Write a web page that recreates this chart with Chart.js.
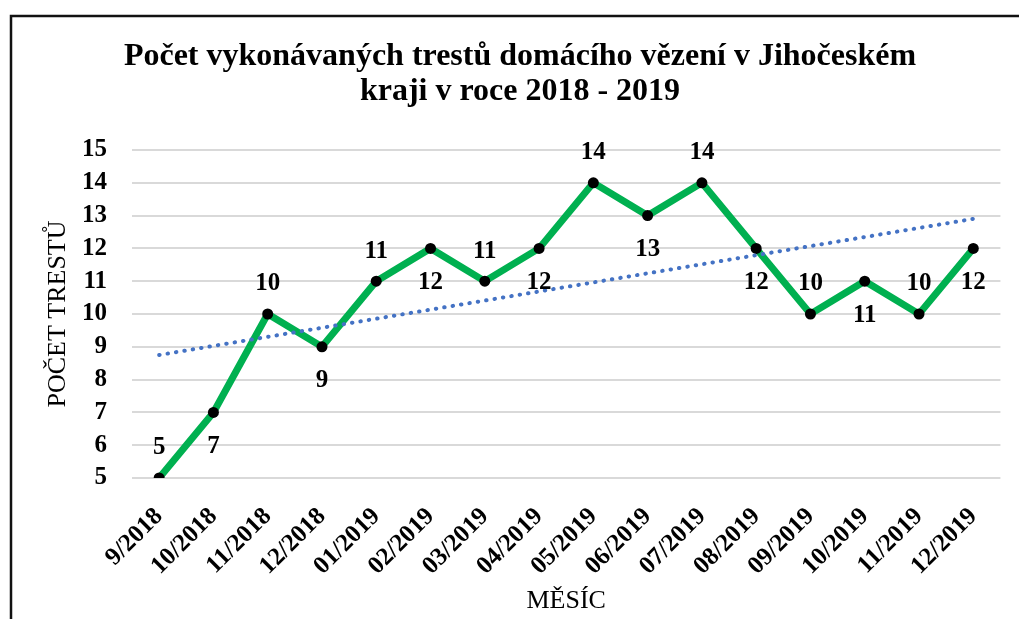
<!DOCTYPE html>
<html>
<head>
<meta charset="utf-8">
<script src="https://cdn.jsdelivr.net/npm/chart.js@4"></script>
<style>
  html, body { margin: 0; padding: 0; background: #fff; }
  #wrap { width: 1019px; height: 619px; }
</style>
</head>
<body>
<div id="wrap"><canvas id="myChart" width="1019" height="619"></canvas></div>
<script>
var months = ['9/2018', '10/2018', '11/2018', '12/2018', '01/2019', '02/2019', '03/2019', '04/2019',
  '05/2019', '06/2019', '07/2019', '08/2019', '09/2019', '10/2019', '11/2019', '12/2019'];
var counts = [5, 7, 10, 9, 11, 12, 11, 12, 14, 13, 14, 12, 10, 11, 10, 12];
// linear trend line, end values
var trend = [8.75, null, null, null, null, null, null, null, null, null, null, null, null, null, null, 12.9];
// label above (-1) or below (+1) each point
var labelSide = [-1, 1, -1, 1, -1, 1, -1, 1, -1, 1, -1, 1, -1, 1, -1, 1];

var serif = '"Liberation Serif", "Times New Roman", serif';

var framePlugin = {
  id: 'frame',
  beforeDraw: function (chart) {
    var c = chart.ctx;
    c.save();
    c.fillStyle = '#fff';
    c.fillRect(0, 0, chart.width, chart.height);
    c.strokeStyle = '#111';
    c.lineWidth = 2.5;
    c.beginPath();
    c.moveTo(11, chart.height);
    c.lineTo(11, 16);
    c.lineTo(chart.width, 16);
    c.stroke();
    c.restore();
  }
};

var labelPlugin = {
  id: 'pointLabels',
  afterDatasetsDraw: function (chart) {
    var c = chart.ctx;
    var meta = chart.getDatasetMeta(0);
    c.save();
    c.font = 'bold 25px ' + serif;
    c.fillStyle = '#000';
    c.textAlign = 'center';
    c.textBaseline = 'middle';
    meta.data.forEach(function (pt, i) {
      var off = labelSide[i] < 0 ? -30 : 34;
      c.fillText(String(counts[i]), pt.x, pt.y + off);
    });
    c.restore();
  }
};

var ctx = document.getElementById('myChart').getContext('2d');
var myChart = new Chart(ctx, {
  type: 'line',
  data: {
    labels: months,
    datasets: [{
      label: 'Počet trestů',
      data: counts,
      borderColor: 'rgb(0, 176, 80)',
      borderWidth: 7,
      pointBackgroundColor: '#000',
      pointBorderColor: '#000',
      pointRadius: 5.5,
      pointBorderWidth: 0,
      tension: 0,
      order: 2
    }, {
      label: 'Trend',
      data: trend,
      spanGaps: true,
      borderColor: 'rgb(68, 114, 196)',
      borderWidth: 4,
      borderDash: [0.5, 8],
      borderCapStyle: 'round',
      pointRadius: 0,
      order: 1
    }]
  },
  options: {
    responsive: false,
    animation: false,
    layout: { padding: { left: 37, right: 16, top: 0, bottom: 0 } },
    plugins: {
      legend: { display: false },
      tooltip: { enabled: false },
      title: {
        display: true,
        text: ['Počet vykonávaných trestů domácího vězení v Jihočeském', 'kraji v roce 2018 - 2019'],
        color: '#000',
        font: { family: serif, size: 32, weight: 'bold', lineHeight: 1.1 },
        padding: { top: 39, bottom: 40.6 }
      }
    },
    scales: {
      x: {
        offset: true,
        grid: { display: false, drawTicks: false },
        border: { display: false },
        ticks: {
          color: '#000',
          font: { family: serif, size: 25, weight: 'bold' },
          minRotation: 45,
          maxRotation: 45,
          autoSkip: false,
          padding: 24
        },
        title: {
          display: true,
          text: 'MĚSÍC',
          color: '#000',
          font: { family: serif, size: 26 },
          padding: { top: 0, bottom: 2 }
        },
        afterFit: function (scale) { scale.height = 141; }
      },
      y: {
        min: 5,
        max: 15,
        grid: { color: '#d9d9d9', lineWidth: 2, drawTicks: false },
        border: { display: false },
        ticks: {
          stepSize: 1,
          autoSkip: false,
          color: '#000',
          font: { family: serif, size: 25, weight: 'bold' },
          padding: 25
        },
        title: {
          display: true,
          text: 'POČET TRESTŮ',
          color: '#000',
          font: { family: serif, size: 26 },
          padding: { top: 6, bottom: 0 }
        },
        afterFit: function (scale) { scale.width = 95; }
      }
    }
  },
  plugins: [framePlugin, labelPlugin]
});
</script>
</body>
</html>
